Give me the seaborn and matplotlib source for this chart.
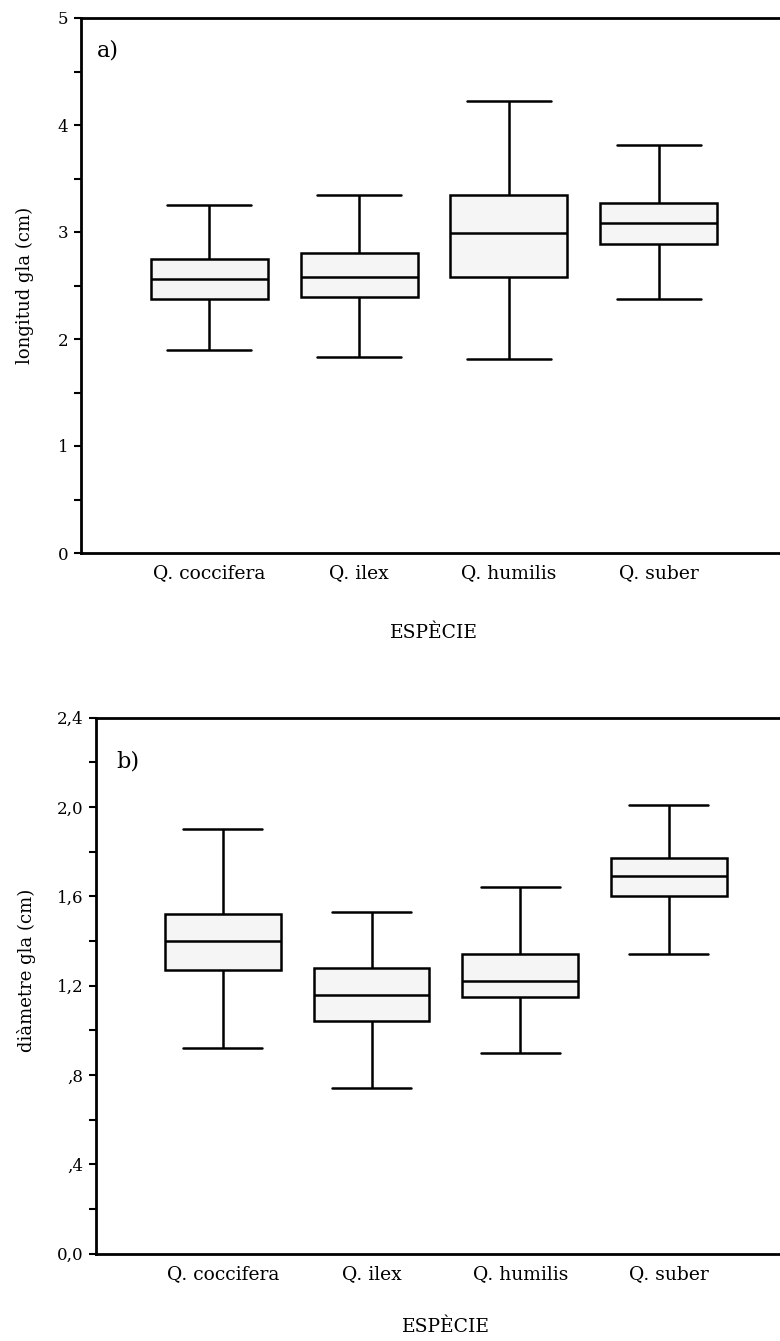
import numpy as np
import pandas as pd
import seaborn as sns
import matplotlib.pyplot as plt
from matplotlib.ticker import FixedLocator, MultipleLocator

sns.set_theme(style="white")
plt.rcParams['font.family'] = ['DejaVu Serif']

species = ["Q. coccifera", "Q. ilex", "Q. humilis", "Q. suber"]

# Acorn length (cm): whisker ends, quartiles and median per species
len_low = [1.90, 1.83, 1.81, 2.37]
len_q1 = [2.37, 2.39, 2.58, 2.89]
len_med = [2.56, 2.58, 2.99, 3.08]
len_q3 = [2.75, 2.80, 3.35, 3.27]
len_high = [3.25, 3.35, 4.22, 3.81]

# Acorn diameter (cm)
diam_low = [0.92, 0.74, 0.90, 1.34]
diam_q1 = [1.27, 1.04, 1.15, 1.60]
diam_med = [1.40, 1.16, 1.22, 1.69]
diam_q3 = [1.52, 1.28, 1.34, 1.77]
diam_high = [1.90, 1.53, 1.64, 2.01]

len_ticks = [0, 1, 2, 3, 4, 5]
len_ticklabels = ["0", "1", "2", "3", "4", "5"]
diam_ticks = [0.0, 0.4, 0.8, 1.2, 1.6, 2.0, 2.4]
diam_ticklabels = ["0,0", ",4", ",8", "1,2", "1,6", "2,0", "2,4"]


def five_number_frame(low, q1, med, q3, high):
    rows = []
    for sp, a, b, c, d, e in zip(species, low, q1, med, q3, high):
        for v in (a, b, c, d, e):
            rows.append({"ESPÈCIE": sp, "valor": v})
    return pd.DataFrame(rows)


df_len = five_number_frame(len_low, len_q1, len_med, len_q3, len_high)
df_diam = five_number_frame(diam_low, diam_q1, diam_med, diam_q3, diam_high)

W, H = 780, 1341
fig = plt.figure(figsize=(W / 100, H / 100), dpi=100)

ax1 = fig.add_axes([81 / W, 1 - 553 / H, (787 - 81) / W, 535 / H])
ax2 = fig.add_axes([95.7 / W, 1 - 1253.7 / H, (796 - 95.7) / W, 536 / H])

box_kw = dict(x="ESPÈCIE", y="valor", order=species, whis=(0, 100),
              color="#f5f5f5", saturation=1, linecolor="black",
              linewidth=1.8, width=0.78, fliersize=0)


def style(ax, df, ylim, ticks, ticklabels, minor, ylabel, tag, tag_xy,
          ylabel_xy, xlabel_y, cap_w):
    sns.boxplot(data=df, ax=ax, **box_kw)
    for cont in ax.containers:
        for cap in getattr(cont, "caps", []):
            xs = cap.get_xdata()
            c = float(np.mean(xs))
            cap.set_xdata([c - cap_w / 2, c + cap_w / 2])
    ax.set_ylim(*ylim)
    m = 0.855
    ax.set_xlim(-m, len(species) - 1 + m)
    ax.yaxis.set_major_locator(FixedLocator(ticks))
    ax.set_yticklabels(ticklabels)
    ax.yaxis.set_minor_locator(MultipleLocator(minor))
    for side in ("left", "bottom", "top"):
        ax.spines[side].set_visible(True)
        ax.spines[side].set_color("black")
        ax.spines[side].set_linewidth(2)
    ax.spines["right"].set_visible(False)
    ax.tick_params(axis="y", which="both", direction="out", left=True,
                   length=5, width=1.5, color="black", labelsize=12,
                   pad=4, labelcolor="black")
    ax.tick_params(axis="x", length=0, labelsize=13.5, pad=8,
                   labelcolor="black")
    ax.set_ylabel(ylabel, fontsize=13, color="black")
    ax.set_xlabel("ESPÈCIE", fontsize=13.5, color="black")
    ax.yaxis.set_label_coords(*ylabel_xy)
    ax.xaxis.set_label_coords(0.5, xlabel_y)
    ax.text(tag_xy[0], tag_xy[1], tag, transform=ax.transAxes,
            fontsize=16, va="center", ha="left", color="black")
    ax.set_facecolor("white")


style(ax1, df_len, (0, 5), len_ticks, len_ticklabels, 0.5,
      "longitud gla (cm)", "a)", (0.023, 0.94), (-0.067, 0.5), -0.133, 0.56)
style(ax2, df_diam, (0, 2.4), diam_ticks, diam_ticklabels, 0.2,
      "diàmetre gla (cm)", "b)", (0.030, 0.919), (-0.085, 0.528), -0.12, 0.53)

fig.savefig("out.png", dpi=100, facecolor="white")
